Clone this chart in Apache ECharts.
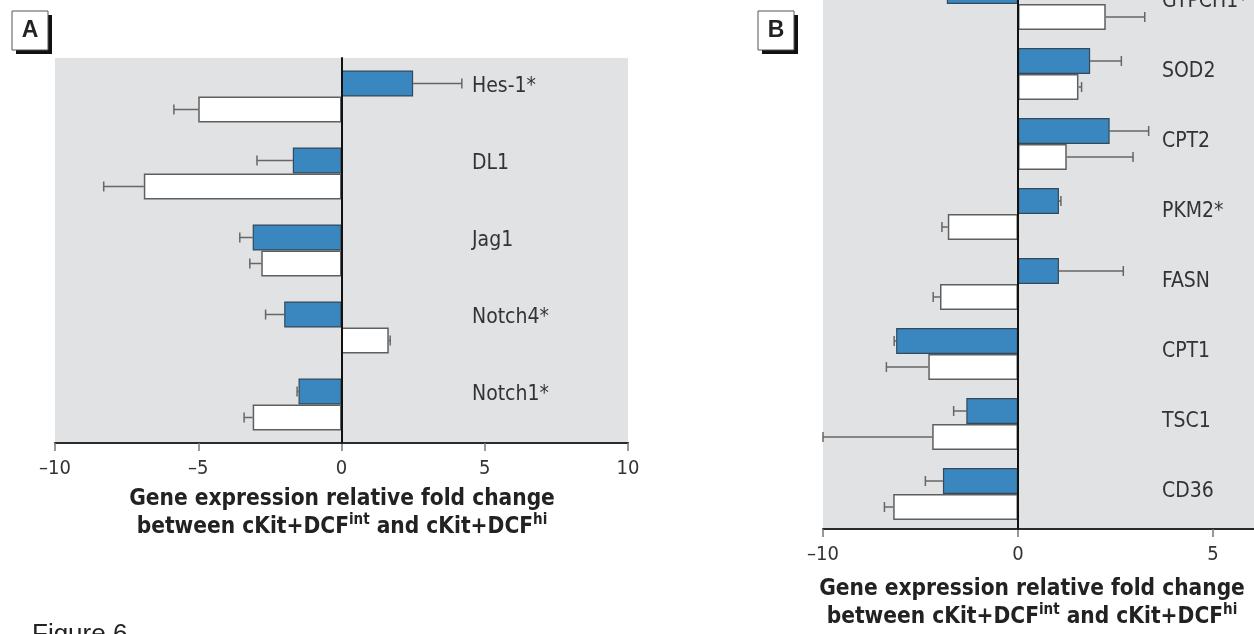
<!DOCTYPE html>
<html><head><meta charset="utf-8">
<script src="https://cdn.jsdelivr.net/npm/echarts@6/dist/echarts.min.js"></script>
<style>html,body{margin:0;padding:0;background:#fff}#c{width:1254px;height:634px}</style>
</head><body><div id="c"></div>
<script>
// ---- Data ----
const genesA = ['Hes-1*', 'DL1', 'Jag1', 'Notch4*', 'Notch1*'];
const intA = [2.5, -1.7, -3.1, -2.0, -1.5];          // blue (cKit+DCF int)
const intErrA = [1.7, 1.25, 0.45, 0.65, 0.05];
const hiA = [-5.0, -6.9, -2.8, 1.65, -3.1];           // white (cKit+DCF hi)
const hiErrA = [0.85, 1.4, 0.4, 0.05, 0.3];

const genesB = ['GTPCH1*', 'SOD2', 'CPT2', 'PKM2*', 'FASN', 'CPT1', 'TSC1', 'CD36'];
const intB = [-3.65, 1.85, 2.35, 1.05, 1.05, -6.25, -2.65, -3.85];
const intErrB = [0.5, 0.8, 1.0, 0.05, 1.65, 0.1, 0.65, 0.9];
const hiB = [2.25, 1.55, 1.25, -3.6, -4.0, -4.6, -4.4, -6.4];
const hiErrB = [1.0, 0.08, 1.7, 0.3, 0.35, 2.15, 5.6, 0.45];

const ticksA = [-10, -5, 0, 5, 10];

// ---- Styles ----
const FONT = "'Liberation Sans Narrow','DejaVu Sans Condensed','Roboto Condensed',sans-serif";
const BG = '#e1e2e4';
const BLUE = '#3a87bf';
const BLUE_BORDER = '#34495a';
const WHITE_BORDER = '#5f5f5f';
const ERR = '#666';
const BAR_W = 26;

function errSeries(vals, errs, side, xi, yi, keep) {
  const data = [];
  vals.forEach((v, i) => {
    if (!keep(v)) return;
    const end = v >= 0 ? v + errs[i] : v - errs[i];
    data.push([v, i, end]);
  });
  return {
    type: 'custom', xAxisIndex: xi, yAxisIndex: yi, z: 1, silent: true,
    clip: false,
    encode: { x: [0, 2], y: 1 },
    data: data,
    renderItem: function (params, api) {
      const p0 = api.coord([api.value(0), api.value(1)]);
      const p1 = api.coord([api.value(2), api.value(1)]);
      const y = p0[1] + side * BAR_W / 2;
      return { type: 'group', children: [
        { type: 'line', shape: { x1: p0[0], y1: y, x2: p1[0], y2: y }, style: { stroke: ERR, lineWidth: 1.5 } },
        { type: 'line', shape: { x1: p1[0], y1: y - 5, x2: p1[0], y2: y + 5 }, style: { stroke: ERR, lineWidth: 1.5 } }
      ]};
    }
  };
}

function barSeries(vals, isBlue, xi, yi, keep) {
  return {
    type: 'bar', xAxisIndex: xi, yAxisIndex: yi, barWidth: BAR_W, barGap: '0%',
    data: vals.map(v => keep(v) ? v : '-'),
    itemStyle: isBlue
      ? { color: BLUE, borderColor: BLUE_BORDER, borderWidth: 1.2 }
      : { color: '#ffffff', borderColor: WHITE_BORDER, borderWidth: 1.5 },
    silent: true, z: 2
  };
}

const all = () => true;
const neg = v => v < 0;
const pos = v => v >= 0;

const valueAxisCommon = {
  type: 'value',
  splitLine: { show: false },
  axisLine: { show: true, onZero: false, lineStyle: { color: '#2b2b2b', width: 2 } },
  axisTick: { show: true, length: 8, lineStyle: { color: '#777', width: 1.5 } },
  axisLabel: { color: '#333', fontFamily: FONT, fontSize: 20, margin: 16,
               formatter: v => (v < 0 ? '\u2013' + Math.abs(v) : String(v)) }
};

const catAxis = (data, gi, showLine, labelMargin, lh) => ({
  type: 'category', gridIndex: gi, data: data, inverse: true, z: 5,
  axisLine: { show: showLine, onZero: true, lineStyle: { color: '#111', width: 2 } },
  axisTick: { show: false },
  axisLabel: { show: labelMargin !== null, inside: true, margin: labelMargin || 0, align: 'left',
               verticalAlign: 'bottom', lineHeight: lh || 21, showMinLabel: true, showMaxLabel: true,
               color: '#333', fontFamily: FONT, fontSize: 21 }
});

const titleText = '{b|Gene expression relative fold change}\n{b|between cKit+DCF}{s|int}{b| and cKit+DCF}{s|hi}';
const titleRich = {
  b: { fontFamily: FONT, fontWeight: 'bold', fontSize: 22.5, color: '#222', lineHeight: 28 },
  s: { fontFamily: FONT, fontWeight: 'bold', fontSize: 15, color: '#222', lineHeight: 28, verticalAlign: 'top', padding: [0, 0, 10, 0] }
};

const gridCommon = { show: true, backgroundColor: BG, borderWidth: 0, containLabel: false, outerBoundsMode: 'none' };

const option = {
  animation: false,
  backgroundColor: '#fff',
  grid: [
    Object.assign({ left: 55, right: 1254 - 628, top: 58, bottom: 634 - 443 }, gridCommon),
    Object.assign({ left: 823, right: 1254 - 1018, top: -31, bottom: 634 - 529 }, gridCommon),
    Object.assign({ left: 1018, right: 1254 - 1408, top: -31, bottom: 634 - 529 }, gridCommon)
  ],
  xAxis: [
    Object.assign({}, valueAxisCommon, { gridIndex: 0, min: ticksA[0], max: ticksA[ticksA.length - 1], interval: 5 }),
    Object.assign({}, valueAxisCommon, { gridIndex: 1, min: -10, max: 0, interval: 10,
      axisLabel: Object.assign({}, valueAxisCommon.axisLabel, { showMaxLabel: false }) }),
    Object.assign({}, valueAxisCommon, { gridIndex: 2, min: 0, max: 10, interval: 5 })
  ],
  yAxis: [
    catAxis(genesA, 0, true, 417, 19),
    catAxis(genesB, 1, false, null),
    catAxis(genesB, 2, true, 144, 4)
  ],
  title: [
    { text: titleText, left: 337, top: 480, textAlign: 'center', textStyle: { rich: titleRich } },
    { text: titleText, left: 1027, top: 570, textAlign: 'center', textStyle: { rich: titleRich } }
  ],
  graphic: [
    { type: 'rect', shape: { x: 16, y: 15, width: 36, height: 39 }, style: { fill: '#111' } },
    { type: 'rect', shape: { x: 12, y: 11, width: 36, height: 39 }, style: { fill: '#fff', stroke: '#555', lineWidth: 1 } },
    { type: 'text', style: { x: 30, y: 31, text: 'A', fill: '#222', font: "bold 23px 'Liberation Sans','DejaVu Sans',sans-serif", textAlign: 'center', textVerticalAlign: 'middle' } },
    { type: 'rect', shape: { x: 762, y: 15, width: 36, height: 39 }, style: { fill: '#111' } },
    { type: 'rect', shape: { x: 758, y: 11, width: 36, height: 39 }, style: { fill: '#fff', stroke: '#555', lineWidth: 1 } },
    { type: 'text', style: { x: 776, y: 31, text: 'B', fill: '#222', font: "bold 23px 'Liberation Sans','DejaVu Sans',sans-serif", textAlign: 'center', textVerticalAlign: 'middle' } },
    { type: 'text', style: { x: 32, y: 622, text: 'Figure 6', fill: '#222', font: "26px 'Liberation Sans','DejaVu Sans',sans-serif" } }
  ],
  series: [
    barSeries(intA, true, 0, 0, all),
    barSeries(hiA, false, 0, 0, all),
    errSeries(intA, intErrA, -1, 0, 0, all),
    errSeries(hiA, hiErrA, 1, 0, 0, all),

    barSeries(intB, true, 1, 1, neg),
    barSeries(hiB, false, 1, 1, neg),
    errSeries(intB, intErrB, -1, 1, 1, neg),
    errSeries(hiB, hiErrB, 1, 1, 1, neg),

    barSeries(intB, true, 2, 2, pos),
    barSeries(hiB, false, 2, 2, pos),
    errSeries(intB, intErrB, -1, 2, 2, pos),
    errSeries(hiB, hiErrB, 1, 2, 2, pos)
  ]
};

const chart = echarts.init(document.getElementById('c'), null, { renderer: 'canvas' });
chart.setOption(option);
</script>
</body></html>
